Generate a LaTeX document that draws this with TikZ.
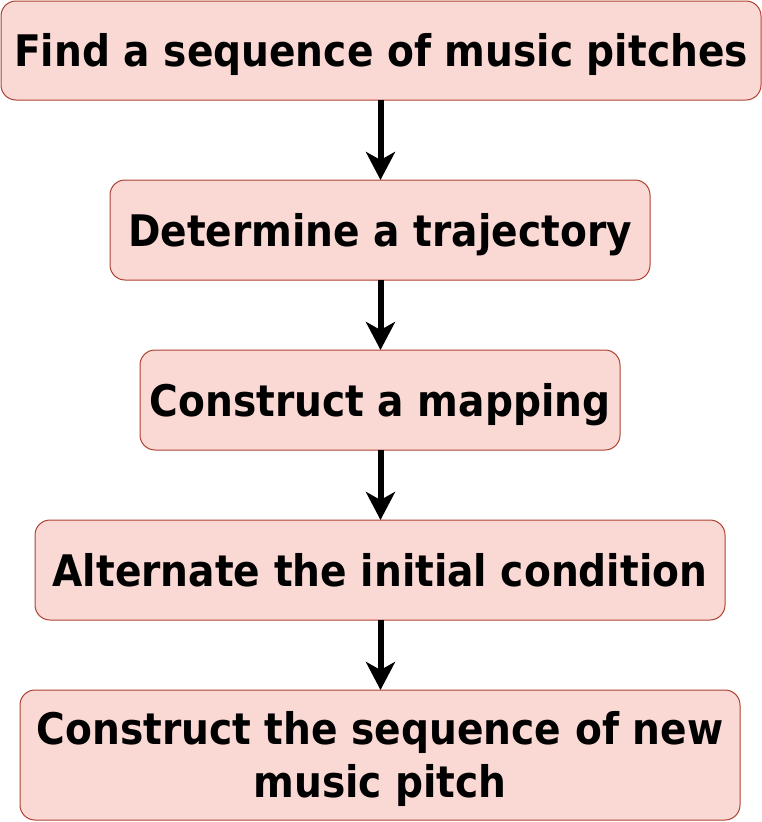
\documentclass[tikz,border=0pt]{standalone}
\usepackage{fontspec}
\setmainfont{DejaVu Sans Condensed}
\usetikzlibrary{arrows.meta}
\definecolor{boxfill}{HTML}{FAD9D5}
\definecolor{boxline}{HTML}{AE4132}
\begin{document}
\begin{tikzpicture}[x=1pt,y=-1pt,
  stepbox/.style={draw=boxline, fill=boxfill, line width=1pt, rounded corners=15pt},
  lbl/.style={font=\fontsize{43.5}{53}\selectfont\bfseries, align=center, inner sep=0pt, anchor=base},
  flow/.style={line width=6pt, -{Stealth[length=28pt,width=29pt,inset=8pt]}}]
\useasboundingbox (0,0) rectangle (762,822);
\draw[stepbox] (1,1) rectangle (761,100);
\draw[stepbox] (110,180) rectangle (650,280);
\draw[stepbox] (140,350) rectangle (620,450);
\draw[stepbox] (35,520) rectangle (725,620);
\draw[stepbox] (20,690) rectangle (740,820);
\node[lbl] (a) at (381,66.5) {Find a sequence of music pitches};
\node[lbl] (b) at (380,246) {Determine a trajectory};
\node[lbl] (c) at (380,416) {Construct a mapping};
\node[lbl] (d) at (380,586) {Alternate the initial condition};
\node[lbl] (e) at (380,797) {Construct the sequence of new\\music pitch};
\coordinate (a1) at (380.5,100);
\coordinate (b0) at (380.5,180);
\coordinate (b1) at (380.5,280);
\coordinate (c0) at (380.5,350);
\coordinate (c1) at (380.5,450);
\coordinate (d0) at (380.5,520);
\coordinate (d1) at (380.5,620);
\coordinate (e0) at (380.5,690);
\draw[flow] (a1) -- (b0);
\draw[flow] (b1) -- (c0);
\draw[flow] (c1) -- (d0);
\draw[flow] (d1) -- (e0);
\end{tikzpicture}
\end{document}
